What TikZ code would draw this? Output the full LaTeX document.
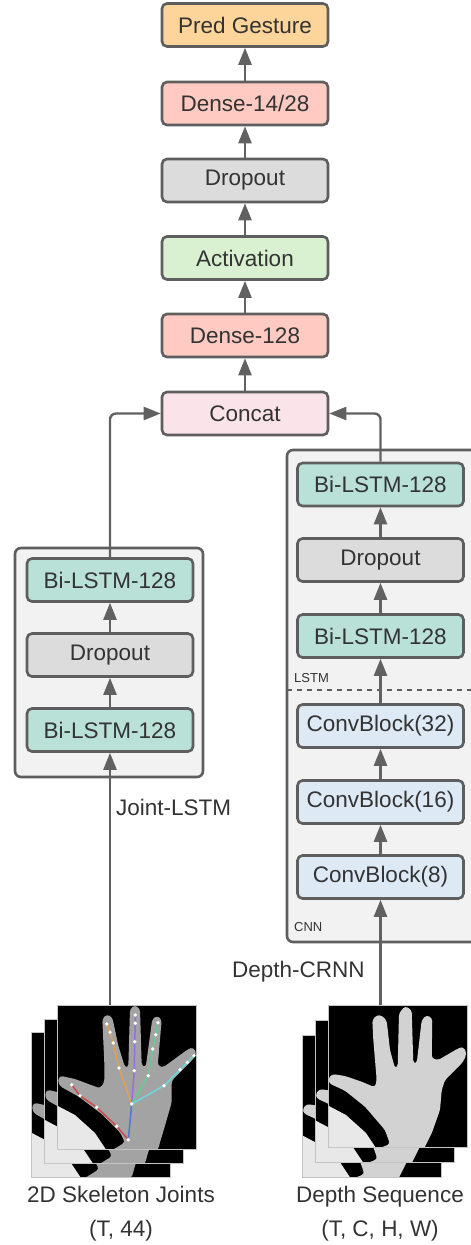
\documentclass[tikz,border=0pt]{standalone}
\usepackage{fontspec}
\setmainfont{Liberation Sans}
\usetikzlibrary{arrows.meta}
\definecolor{bordc}{HTML}{5E5E5E}
\definecolor{arrc}{HTML}{616161}
\definecolor{txtc}{HTML}{333333}
\definecolor{contc}{HTML}{F2F2F2}
\definecolor{predc}{HTML}{FDD49A}
\definecolor{densec}{HTML}{FECAC2}
\definecolor{dropc}{HTML}{DCDCDC}
\definecolor{actc}{HTML}{D9F1D0}
\definecolor{concc}{HTML}{FAE4EA}
\definecolor{lstmc}{HTML}{B9E1D8}
\definecolor{convc}{HTML}{DDEAF5}
\definecolor{skhand}{HTML}{A3A3A3}
\definecolor{dphand}{HTML}{D2D2D2}
\definecolor{lightc}{HTML}{E8E8E8}
\definecolor{framec}{HTML}{C4C4C4}
\def\skpath{(39.7,170.7) -- (46.3,150.7) -- (68,137.3) -- (63,127.3) -- (44.7,109) -- (21.3,91.3) -- (3,81.3) -- (0.7,75.7) -- (3,70.7) -- (18,74) -- (43,83.3) -- (47.3,77.3) -- (47.3,57.3) -- (45.3,14) -- (49.7,9.3) -- (55.3,12.3) -- (61.3,40.7) -- (68,62.3) -- (71.3,62.3) -- (73,4) -- (78,0) -- (83,4) -- (84.7,60.7) -- (88.7,62.3) -- (95.3,14) -- (100.3,10.7) -- (104.7,14.7) -- (100.7,60.7) -- (106.3,62.3) -- (131.3,44) -- (136.3,42.3) -- (139.7,49) -- (134.7,55.7) -- (114.7,75.7) -- (114.7,97.3) -- (108,120.7) -- (103,137.3) -- (101.3,144) -- (76.3,170.7) -- cycle}
\def\dppath{(37,171.7) -- (47,145) -- (62,139) -- (57,125) -- (37,101.7) -- (17,85.7) -- (1,78.3) -- (0.3,73.3) -- (4.3,69) -- (17,71) -- (33.7,76.7) -- (47,82.3) -- (48.7,75) -- (45.3,35) -- (44.3,15) -- (48.7,10) -- (54.3,10.7) -- (58.7,15.7) -- (62,45) -- (67,63.3) -- (69.7,61.7) -- (71,8.3) -- (77,1) -- (83.7,5) -- (85.3,58.3) -- (88.7,58.3) -- (93.7,15) -- (98.7,10) -- (104.3,13.3) -- (103.7,53.3) -- (110.3,55) -- (130.3,43.3) -- (135.3,41.7) -- (138.7,48.3) -- (135.3,56.7) -- (117,75) -- (113.7,85) -- (112,105) -- (103.7,128.3) -- (98.7,138.3) -- (95.3,145) -- (73.7,171.7) -- cycle}
% #1,#2 origin, #3 colour, #4 path macro, #5 height
\newcommand{\handframe}[5]{%
  \begin{scope}[shift={(#1,#2)}]
    \begin{scope}
      \clip (0,0) rectangle (139,#5);
      \fill[black] (0,0) rectangle (139,#5);
      \fill[lightc] (-1,100) -- (18,110) -- (38,128) -- (50,146) -- (-1,146) -- cycle;
      \fill[#3, rounded corners=3pt] #4;
    \end{scope}
    \draw[framec, line width=0.8pt] (0,0) rectangle (139,#5);
  \end{scope}}
\begin{document}
\begin{tikzpicture}[x=1pt,y=-1pt,
  blk/.style={draw=bordc, line width=2.6pt, rounded corners=5pt, minimum width=166pt, minimum height=43pt, inner sep=0pt, font=\fontsize{22.5}{27}\selectfont, text=txtc},
  arr/.style={draw=arrc, line width=2.4pt, -{Triangle[length=17pt,width=13pt]}},
  cont/.style={draw=bordc, line width=2.6pt, fill=contc, rounded corners=6pt, inner sep=0pt},
  lbl/.style={font=\fontsize{22.5}{27}\selectfont, text=txtc, inner sep=0pt},
  small/.style={font=\fontsize{13}{15}\selectfont, text=txtc, inner sep=0pt},
  bone/.style={line width=1.5pt},
  joint/.style={fill=white, draw=none}
]
\useasboundingbox (0,0) rectangle (471,1245);
% containers
\node[cont, minimum width=188pt, minimum height=229pt] (jcont) at (109,662.5) {};
\node[cont, minimum width=220pt, minimum height=492pt] (dcont) at (397,696) {};
% main column
\node[blk, fill=predc] (pred) at (245,25) {Pred Gesture};
\node[blk, fill=densec] (d14) at (245,103.5) {Dense-14/28};
\node[blk, fill=dropc] (drop) at (245,180.5) {Dropout};
\node[blk, fill=actc] (act) at (245,258) {Activation};
\node[blk, fill=densec] (d128) at (245,335.5) {Dense-128};
\node[blk, fill=concc] (concat) at (245,413.5) {Concat};
% joint LSTM
\node[blk, fill=lstmc] (jl3) at (110,580) {Bi-LSTM-128};
\node[blk, fill=dropc] (jl2) at (110,655) {Dropout};
\node[blk, fill=lstmc] (jl1) at (110,730) {Bi-LSTM-128};
% depth CRNN
\node[blk, fill=lstmc] (r6) at (380.5,484.5) {Bi-LSTM-128};
\node[blk, fill=dropc] (r5) at (380.5,560) {Dropout};
\node[blk, fill=lstmc] (r4) at (380.5,636) {Bi-LSTM-128};
\node[blk, fill=convc] (c3) at (380.5,726) {ConvBlock(32)};
\node[blk, fill=convc] (c2) at (380.5,802) {ConvBlock(16)};
\node[blk, fill=convc] (c1) at (380.5,877) {ConvBlock(8)};
% divider and small labels
\coordinate (dl) at (287,690);
\coordinate (dr) at (471,690);
\draw[bordc, line width=1.5pt, dash pattern=on 5pt off 5pt] (dl) -- (dr);
\node[small, anchor=west] (lstmlbl) at (294,678) {LSTM};
\node[small, anchor=west] (cnnlbl) at (294,927) {CNN};
\node[lbl, anchor=west] (jlbl) at (116,807) {Joint-LSTM};
\node[lbl, anchor=west] (dlbl) at (232,972) {Depth-CRNN};
% arrows main
\draw[arr] (d14.north) -- (pred.south);
\draw[arr] (drop.north) -- (d14.south);
\draw[arr] (act.north) -- (drop.south);
\draw[arr] (d128.north) -- (act.south);
\draw[arr] (concat.north) -- (d128.south);
\draw[arr] (jl2.north) -- (jl3.south);
\draw[arr] (jl1.north) -- (jl2.south);
\draw[arr] (r5.north) -- (r6.south);
\draw[arr] (r4.north) -- (r5.south);
\draw[arr] (c3.north) -- (r4.south);
\draw[arr] (c2.north) -- (c3.south);
\draw[arr] (c1.north) -- (c2.south);
\draw[arr, rounded corners=6pt] (jl3.north) |- (concat.west);
\draw[arr, rounded corners=6pt] (r6.north) |- (concat.east);
% image frames
\handframe{31}{1032}{skhand}{\skpath}{145}
\handframe{44}{1019}{skhand}{\skpath}{144}
\handframe{57}{1005}{skhand}{\skpath}{144}
\handframe{302.5}{1035}{dphand}{\dppath}{142}
\handframe{315.5}{1020}{dphand}{\dppath}{142}
\handframe{328}{1005}{dphand}{\dppath}{142}
% skeleton
\begin{scope}[shift={(57,1005)}]
  \draw[bone, color={rgb,255:red,74;green,120;blue,214}] (74.7,99) -- (71.3,134.7);
  \draw[bone, color={rgb,255:red,206;green,74;blue,70}] (71.3,134.7) -- (59.7,121.3) -- (39.7,102.3) -- (23,90.7) -- (14.7,79.7);
  \draw[bone, color={rgb,255:red,226;green,160;blue,84}] (74.7,99) -- (62,63) -- (56.3,38) -- (53,27.3) -- (49.7,19);
  \draw[bone, color={rgb,255:red,150;green,110;blue,224}] (74.7,99) -- (77.3,65.7) -- (77.7,36.7) -- (78.3,18.3) -- (78.3,10);
  \draw[bone, color={rgb,255:red,96;green,206;blue,146}] (74.7,99) -- (91.3,70.7) -- (95.7,44) -- (98.7,29.7) -- (101,17.7);
  \draw[bone, color={rgb,255:red,110;green,214;blue,216}] (74.7,99) -- (107,80.7) -- (123,64.7) -- (130.3,57.3) -- (137,50.7);
  \foreach \p in {(74.7,99),(71.3,134.7),(59.7,121.3),(39.7,102.3),(23,90.7),(14.7,79.7),(62,63),(56.3,38),(53,27.3),(49.7,19),(77.3,65.7),(77.7,36.7),(78.3,18.3),(78.3,10),(91.3,70.7),(95.7,44),(98.7,29.7),(101,17.7),(107,80.7),(123,64.7),(130.3,57.3),(137,50.7)}
    \fill[joint] \p circle (1.9pt);
\end{scope}
\coordinate (skimg) at (110,1005);
\coordinate (dpimg) at (380.5,1005);
\draw[arr] (skimg) -- (jl1.south);
\draw[arr] (dpimg) -- (c1.south);
% bottom labels
\node[lbl, align=center, font=\fontsize{22.5}{34}\selectfont] (sklbl) at (121,1214) {2D Skeleton Joints\\(T, 44)};
\node[lbl, align=center, font=\fontsize{22.5}{34}\selectfont] (dplbl) at (380,1214) {Depth Sequence\\(T, C, H, W)};
\end{tikzpicture}
\end{document}
